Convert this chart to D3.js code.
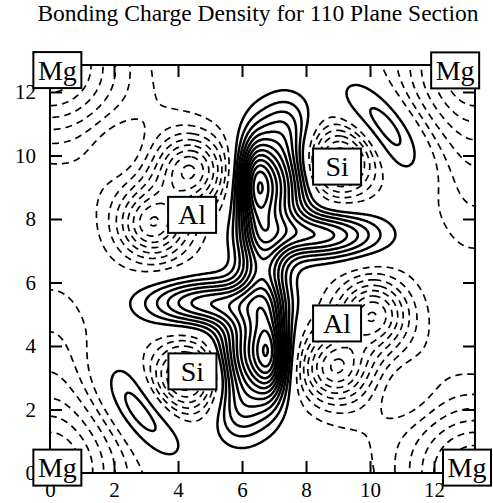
<!DOCTYPE html>
<html>
<head>
<meta charset="utf-8">
<script src="https://cdn.jsdelivr.net/npm/d3@7"></script>
<style>
body { margin: 0; background: #fff; }
text { font-family: "Liberation Serif", "DejaVu Serif", serif; fill: #000; }
</style>
</head>
<body>
<svg></svg>
<script>
const title = "Bonding Charge Density for 110 Plane Section";
const xTicks = [0, 2, 4, 6, 8, 10, 12];
const yTicks = [0, 2, 4, 6, 8, 10, 12];
const xExtent = [0, 13.28];
const yExtent = [0, 12.85];

// atom label boxes (centre, data units)
const atomNames = ["Mg", "Mg", "Mg", "Mg", "Al", "Al", "Si", "Si"];
const atomX = [0.23, 12.66, 0.23, 13.03, 4.44, 8.97, 8.97, 4.45];
const atomY = [12.69, 12.68, 0.17, 0.17, 8.13, 4.71, 9.65, 3.2];

// density bumps: centre, height, widths, tilt (deg)
//                peaks+lobes (top, bottom)              arms        link  ellipses
const bumpX  = [6.4, 7.0, 7.4,   6.9, 6.3, 5.9,   8.4, 4.9,   6.65,  2.8, 10.5,
                // Si, Al wells, Mg corners, edge wells, broad Al wells, holes
                9.05, 4.25,   4.43, 3.2, 8.87, 10.1,   0, 13.28, 0, 13.28,
                0, 13.28,   3.4, 9.9,   2.3, 11.0];
const bumpY  = [9.1, 9.1, 11.0,    3.74, 3.74, 1.84,  7.49, 5.35,  6.42,  2.0, 10.84,
                9.84, 3.0,   9.54, 7.8, 3.3, 5.04,   0, 0, 12.85, 12.85,
                3.5, 9.35,   9.2, 3.64,   10.2, 2.64];
const bumpA  = [6, 9, 2.5,   6, 9, 2.5,   6.5, 6.5,   6,   3.6, 3.6,
                -7, -7,   -6.5, -6.5, -6.5, -6.5,   -7, -7, -7, -7,
                -2.2, -2.2,   -2.2, -2.2,   1.8, 1.8];
const bumpSx = [0.35, 0.7, 0.6,   0.35, 0.7, 0.6,   1.3, 1.3,   0.5,   1.25, 1.25,
                0.8, 0.8,   0.75, 0.75, 0.75, 0.75,   1.55, 1.55, 1.55, 1.55,
                1.1, 1.1,   1.3, 1.3,   0.75, 0.75];
const bumpSy = [1.0, 1.1, 0.7,   1.0, 1.1, 0.7,   0.5, 0.5,   1.2,   0.6, 0.6,
                0.8, 0.8,   0.75, 0.75, 0.75, 0.75,   1.55, 1.55, 1.55, 1.55,
                1.8, 1.8,   1.5, 1.5,   0.75, 0.75];
const bumpTilt = [0, 0, 0, 0, 0, 0, 0, 0, 0, -52, -50,
                  0, 0, 0, 0, 0, 0, 0, 0, 0, 0,
                  0, 0, 0, 0, 0, 0];

const negLevels = [-9, -8, -7, -6, -5, -4, -3, -2, -1];
const posLevels = [1, 2, 3, 4, 5, 6, 7, 8, 9, 10, 11, 12, 13, 14, 15, 16];

const width = 493, height = 503;
const margin = {top: 65, right: 18, bottom: 30, left: 50};

const svg = d3.select("svg").attr("width", width).attr("height", height);

const xScale = d3.scaleLinear().domain(xExtent).range([margin.left, width - margin.right]);
const yScale = d3.scaleLinear().domain(yExtent).range([height - margin.bottom, margin.top]);

// grid of the density field
const step = 0.04;
const gx0 = -0.6, gy0 = -0.6;
const nx = Math.ceil((xExtent[1] + 1.2) / step);
const ny = Math.ceil((yExtent[1] + 1.2) / step);
const values = new Float64Array(nx * ny);
for (let j = 0; j < ny; j++) {
  const y = gy0 + j * step;
  for (let i = 0; i < nx; i++) {
    const x = gx0 + i * step;
    let v = 0;
    for (let k = 0; k < bumpX.length; k++) {
      const t = bumpTilt[k] * Math.PI / 180;
      const dx = x - bumpX[k], dy = y - bumpY[k];
      const u = dx * Math.cos(t) + dy * Math.sin(t);
      const w = -dx * Math.sin(t) + dy * Math.cos(t);
      v += bumpA[k] * Math.exp(-(u * u) / (2 * bumpSx[k] ** 2) - (w * w) / (2 * bumpSy[k] ** 2));
    }
    values[j * nx + i] = v;
  }
}

const proj = d3.geoTransform({
  point: function(px, py) {
    this.stream.point(xScale(gx0 + (px - 0.5) * step), yScale(gy0 + (py - 0.5) * step));
  }
});
const path = d3.geoPath(proj);

svg.append("clipPath").attr("id", "plot-clip")
  .append("rect")
  .attr("x", xScale(xExtent[0])).attr("y", yScale(yExtent[1]))
  .attr("width", xScale(xExtent[1]) - xScale(xExtent[0]))
  .attr("height", yScale(yExtent[0]) - yScale(yExtent[1]));

const contourG = svg.append("g").attr("clip-path", "url(#plot-clip)");
const contours = d3.contours().size([nx, ny]);

contourG.selectAll("path.neg")
  .data(contours.thresholds(negLevels)(values).filter(c => c.value < 0))
  .join("path")
  .attr("class", "neg")
  .attr("d", path)
  .attr("fill", "none")
  .attr("stroke", "#000")
  .attr("stroke-width", 1.7)
  .attr("stroke-dasharray", "7,5");

contourG.selectAll("path.pos")
  .data(contours.thresholds(posLevels)(values).filter(c => c.value > 0))
  .join("path")
  .attr("class", "pos")
  .attr("d", path)
  .attr("fill", "none")
  .attr("stroke", "#000")
  .attr("stroke-width", 2.5);

// axes, ticks pointing inwards
const plotW = xScale(xExtent[1]) - xScale(xExtent[0]);
const plotH = yScale(yExtent[0]) - yScale(yExtent[1]);

const styleAxis = g => {
  g.select(".domain").remove();
  g.selectAll(".tick line").attr("stroke", "#000").attr("stroke-width", 2);
  g.selectAll("text").attr("font-size", 21).attr("font-family", "Liberation Serif");
};

svg.append("g")
  .attr("transform", `translate(0,${yScale(0)})`)
  .call(d3.axisBottom(xScale).tickValues(xTicks).tickSize(-12).tickPadding(9))
  .call(styleAxis);
svg.append("g")
  .attr("transform", `translate(${xScale(0)},0)`)
  .call(d3.axisLeft(yScale).tickValues(yTicks).tickSize(-12).tickPadding(14))
  .call(styleAxis);
svg.append("g")
  .attr("transform", `translate(0,${yScale(yExtent[1])})`)
  .call(d3.axisTop(xScale).tickValues(xTicks).tickSize(-12).tickFormat(""))
  .call(styleAxis);
svg.append("g")
  .attr("transform", `translate(${xScale(xExtent[1])},0)`)
  .call(d3.axisRight(yScale).tickValues(yTicks).tickSize(-12).tickFormat(""))
  .call(styleAxis);

svg.append("rect")
  .attr("x", xScale(xExtent[0])).attr("y", yScale(yExtent[1]))
  .attr("width", plotW).attr("height", plotH)
  .attr("fill", "none").attr("stroke", "#000").attr("stroke-width", 2);

// atom labels
const boxW = 48, boxH = 36;
const atoms = svg.append("g").selectAll("g")
  .data(atomNames.map((n, i) => ({name: n, x: atomX[i], y: atomY[i]})))
  .join("g")
  .attr("transform", d => `translate(${xScale(d.x)},${yScale(d.y)})`);
atoms.append("rect")
  .attr("x", -boxW / 2).attr("y", -boxH / 2)
  .attr("width", boxW).attr("height", boxH)
  .attr("fill", "#fff").attr("stroke", "#000").attr("stroke-width", 2);
atoms.append("text")
  .attr("text-anchor", "middle")
  .attr("y", 9.5)
  .attr("font-size", 28)
  .text(d => d.name);

svg.append("text")
  .attr("x", 258).attr("y", 21)
  .attr("text-anchor", "middle")
  .attr("font-size", 23.5)
  .text(title);
</script>
</body>
</html>
